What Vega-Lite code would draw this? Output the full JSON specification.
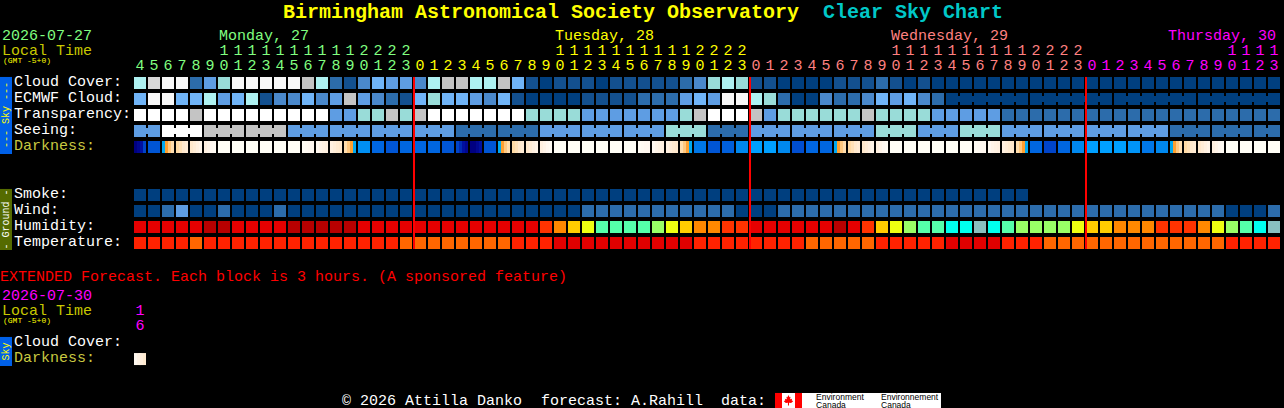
{"$schema":"https://vega.github.io/schema/vega-lite/v6.json","width":1284,"height":408,"padding":0,"autosize":{"type":"none"},"background":"#000000","config":{"view":{"stroke":null}},
"datasets":{
"sky":[
{"row":"Cloud Cover","slot":0,"level":70},{"row":"Cloud Cover","slot":1,"level":90},{"row":"Cloud Cover","slot":2,"level":100},{"row":"Cloud Cover","slot":3,"level":100},{"row":"Cloud Cover","slot":4,"level":20},{"row":"Cloud Cover","slot":5,"level":40},{"row":"Cloud Cover","slot":6,"level":60},{"row":"Cloud Cover","slot":7,"level":100},{"row":"Cloud Cover","slot":8,"level":100},{"row":"Cloud Cover","slot":9,"level":100},{"row":"Cloud Cover","slot":10,"level":100},{"row":"Cloud Cover","slot":11,"level":100},{"row":"Cloud Cover","slot":12,"level":80},{"row":"Cloud Cover","slot":13,"level":70},{"row":"Cloud Cover","slot":14,"level":20},{"row":"Cloud Cover","slot":15,"level":10},{"row":"Cloud Cover","slot":16,"level":30},{"row":"Cloud Cover","slot":17,"level":50},{"row":"Cloud Cover","slot":18,"level":40},{"row":"Cloud Cover","slot":19,"level":40},{"row":"Cloud Cover","slot":20,"level":30},{"row":"Cloud Cover","slot":21,"level":70},{"row":"Cloud Cover","slot":22,"level":80},{"row":"Cloud Cover","slot":23,"level":80},{"row":"Cloud Cover","slot":24,"level":70},{"row":"Cloud Cover","slot":25,"level":70},{"row":"Cloud Cover","slot":26,"level":80},{"row":"Cloud Cover","slot":27,"level":50},{"row":"Cloud Cover","slot":28,"level":10},{"row":"Cloud Cover","slot":29,"level":0},{"row":"Cloud Cover","slot":30,"level":10},{"row":"Cloud Cover","slot":31,"level":10},{"row":"Cloud Cover","slot":32,"level":10},{"row":"Cloud Cover","slot":33,"level":0},{"row":"Cloud Cover","slot":34,"level":10},{"row":"Cloud Cover","slot":35,"level":10},{"row":"Cloud Cover","slot":36,"level":10},{"row":"Cloud Cover","slot":37,"level":10},{"row":"Cloud Cover","slot":38,"level":10},{"row":"Cloud Cover","slot":39,"level":20},{"row":"Cloud Cover","slot":40,"level":30},{"row":"Cloud Cover","slot":41,"level":60},{"row":"Cloud Cover","slot":42,"level":70},{"row":"Cloud Cover","slot":43,"level":60},{"row":"Cloud Cover","slot":44,"level":10},{"row":"Cloud Cover","slot":45,"level":10},{"row":"Cloud Cover","slot":46,"level":0},{"row":"Cloud Cover","slot":47,"level":0},{"row":"Cloud Cover","slot":48,"level":0},{"row":"Cloud Cover","slot":49,"level":0},{"row":"Cloud Cover","slot":50,"level":10},{"row":"Cloud Cover","slot":51,"level":10},{"row":"Cloud Cover","slot":52,"level":10},{"row":"Cloud Cover","slot":53,"level":20},{"row":"Cloud Cover","slot":54,"level":10},{"row":"Cloud Cover","slot":55,"level":0},{"row":"Cloud Cover","slot":56,"level":10},{"row":"Cloud Cover","slot":57,"level":0},{"row":"Cloud Cover","slot":58,"level":0},{"row":"Cloud Cover","slot":59,"level":0},{"row":"Cloud Cover","slot":60,"level":0},{"row":"Cloud Cover","slot":61,"level":0},{"row":"Cloud Cover","slot":62,"level":0},{"row":"Cloud Cover","slot":63,"level":0},{"row":"Cloud Cover","slot":64,"level":0},{"row":"Cloud Cover","slot":65,"level":0},{"row":"Cloud Cover","slot":66,"level":0},{"row":"Cloud Cover","slot":67,"level":0},{"row":"Cloud Cover","slot":68,"level":0},{"row":"Cloud Cover","slot":69,"level":0},{"row":"Cloud Cover","slot":70,"level":0},{"row":"Cloud Cover","slot":71,"level":0},{"row":"Cloud Cover","slot":72,"level":0},{"row":"Cloud Cover","slot":73,"level":0},{"row":"Cloud Cover","slot":74,"level":0},{"row":"Cloud Cover","slot":75,"level":0},{"row":"Cloud Cover","slot":76,"level":0},{"row":"Cloud Cover","slot":77,"level":0},{"row":"Cloud Cover","slot":78,"level":0},{"row":"Cloud Cover","slot":79,"level":0},{"row":"Cloud Cover","slot":80,"level":0},{"row":"Cloud Cover","slot":81,"level":0},
{"row":"ECMWF Cloud","slot":0,"level":50},{"row":"ECMWF Cloud","slot":1,"level":100},{"row":"ECMWF Cloud","slot":2,"level":100},{"row":"ECMWF Cloud","slot":3,"level":50},{"row":"ECMWF Cloud","slot":4,"level":50},{"row":"ECMWF Cloud","slot":5,"level":70},{"row":"ECMWF Cloud","slot":6,"level":40},{"row":"ECMWF Cloud","slot":7,"level":50},{"row":"ECMWF Cloud","slot":8,"level":70},{"row":"ECMWF Cloud","slot":9,"level":10},{"row":"ECMWF Cloud","slot":10,"level":30},{"row":"ECMWF Cloud","slot":11,"level":30},{"row":"ECMWF Cloud","slot":12,"level":50},{"row":"ECMWF Cloud","slot":13,"level":30},{"row":"ECMWF Cloud","slot":14,"level":40},{"row":"ECMWF Cloud","slot":15,"level":80},{"row":"ECMWF Cloud","slot":16,"level":40},{"row":"ECMWF Cloud","slot":17,"level":30},{"row":"ECMWF Cloud","slot":18,"level":20},{"row":"ECMWF Cloud","slot":19,"level":10},{"row":"ECMWF Cloud","slot":20,"level":50},{"row":"ECMWF Cloud","slot":21,"level":60},{"row":"ECMWF Cloud","slot":22,"level":50},{"row":"ECMWF Cloud","slot":23,"level":50},{"row":"ECMWF Cloud","slot":24,"level":40},{"row":"ECMWF Cloud","slot":25,"level":30},{"row":"ECMWF Cloud","slot":26,"level":50},{"row":"ECMWF Cloud","slot":27,"level":10},{"row":"ECMWF Cloud","slot":28,"level":0},{"row":"ECMWF Cloud","slot":29,"level":0},{"row":"ECMWF Cloud","slot":30,"level":0},{"row":"ECMWF Cloud","slot":31,"level":0},{"row":"ECMWF Cloud","slot":32,"level":10},{"row":"ECMWF Cloud","slot":33,"level":10},{"row":"ECMWF Cloud","slot":34,"level":10},{"row":"ECMWF Cloud","slot":35,"level":10},{"row":"ECMWF Cloud","slot":36,"level":20},{"row":"ECMWF Cloud","slot":37,"level":20},{"row":"ECMWF Cloud","slot":38,"level":20},{"row":"ECMWF Cloud","slot":39,"level":40},{"row":"ECMWF Cloud","slot":40,"level":50},{"row":"ECMWF Cloud","slot":41,"level":40},{"row":"ECMWF Cloud","slot":42,"level":100},{"row":"ECMWF Cloud","slot":43,"level":100},{"row":"ECMWF Cloud","slot":44,"level":70},{"row":"ECMWF Cloud","slot":45,"level":60},{"row":"ECMWF Cloud","slot":46,"level":20},{"row":"ECMWF Cloud","slot":47,"level":0},{"row":"ECMWF Cloud","slot":48,"level":0},{"row":"ECMWF Cloud","slot":49,"level":30},{"row":"ECMWF Cloud","slot":50,"level":20},{"row":"ECMWF Cloud","slot":51,"level":20},{"row":"ECMWF Cloud","slot":52,"level":30},{"row":"ECMWF Cloud","slot":53,"level":50},{"row":"ECMWF Cloud","slot":54,"level":40},{"row":"ECMWF Cloud","slot":55,"level":50},{"row":"ECMWF Cloud","slot":56,"level":30},{"row":"ECMWF Cloud","slot":57,"level":20},{"row":"ECMWF Cloud","slot":58,"level":0},{"row":"ECMWF Cloud","slot":59,"level":0},{"row":"ECMWF Cloud","slot":60,"level":0},{"row":"ECMWF Cloud","slot":61,"level":0},{"row":"ECMWF Cloud","slot":62,"level":0},{"row":"ECMWF Cloud","slot":63,"level":0},{"row":"ECMWF Cloud","slot":64,"level":0},{"row":"ECMWF Cloud","slot":65,"level":0},{"row":"ECMWF Cloud","slot":66,"level":0},{"row":"ECMWF Cloud","slot":67,"level":0},{"row":"ECMWF Cloud","slot":68,"level":0},{"row":"ECMWF Cloud","slot":69,"level":0},{"row":"ECMWF Cloud","slot":70,"level":0},{"row":"ECMWF Cloud","slot":71,"level":0},{"row":"ECMWF Cloud","slot":72,"level":0},{"row":"ECMWF Cloud","slot":73,"level":0},{"row":"ECMWF Cloud","slot":74,"level":0},{"row":"ECMWF Cloud","slot":75,"level":0},{"row":"ECMWF Cloud","slot":76,"level":0},{"row":"ECMWF Cloud","slot":77,"level":0},{"row":"ECMWF Cloud","slot":78,"level":0},{"row":"ECMWF Cloud","slot":79,"level":0},{"row":"ECMWF Cloud","slot":80,"level":0},{"row":"ECMWF Cloud","slot":81,"level":0},
{"row":"Transparency","slot":0,"level":105},{"row":"Transparency","slot":1,"level":105},{"row":"Transparency","slot":2,"level":105},{"row":"Transparency","slot":3,"level":105},{"row":"Transparency","slot":4,"level":80},{"row":"Transparency","slot":5,"level":105},{"row":"Transparency","slot":6,"level":105},{"row":"Transparency","slot":7,"level":105},{"row":"Transparency","slot":8,"level":105},{"row":"Transparency","slot":9,"level":105},{"row":"Transparency","slot":10,"level":105},{"row":"Transparency","slot":11,"level":105},{"row":"Transparency","slot":12,"level":105},{"row":"Transparency","slot":13,"level":105},{"row":"Transparency","slot":14,"level":40},{"row":"Transparency","slot":15,"level":40},{"row":"Transparency","slot":16,"level":60},{"row":"Transparency","slot":17,"level":60},{"row":"Transparency","slot":18,"level":80},{"row":"Transparency","slot":19,"level":60},{"row":"Transparency","slot":20,"level":80},{"row":"Transparency","slot":21,"level":105},{"row":"Transparency","slot":22,"level":105},{"row":"Transparency","slot":23,"level":105},{"row":"Transparency","slot":24,"level":105},{"row":"Transparency","slot":25,"level":105},{"row":"Transparency","slot":26,"level":105},{"row":"Transparency","slot":27,"level":105},{"row":"Transparency","slot":28,"level":60},{"row":"Transparency","slot":29,"level":60},{"row":"Transparency","slot":30,"level":60},{"row":"Transparency","slot":31,"level":60},{"row":"Transparency","slot":32,"level":40},{"row":"Transparency","slot":33,"level":40},{"row":"Transparency","slot":34,"level":40},{"row":"Transparency","slot":35,"level":40},{"row":"Transparency","slot":36,"level":40},{"row":"Transparency","slot":37,"level":40},{"row":"Transparency","slot":38,"level":40},{"row":"Transparency","slot":39,"level":60},{"row":"Transparency","slot":40,"level":80},{"row":"Transparency","slot":41,"level":105},{"row":"Transparency","slot":42,"level":105},{"row":"Transparency","slot":43,"level":105},{"row":"Transparency","slot":44,"level":80},{"row":"Transparency","slot":45,"level":40},{"row":"Transparency","slot":46,"level":60},{"row":"Transparency","slot":47,"level":60},{"row":"Transparency","slot":48,"level":60},{"row":"Transparency","slot":49,"level":60},{"row":"Transparency","slot":50,"level":60},{"row":"Transparency","slot":51,"level":60},{"row":"Transparency","slot":52,"level":80},{"row":"Transparency","slot":53,"level":60},{"row":"Transparency","slot":54,"level":60},{"row":"Transparency","slot":55,"level":60},{"row":"Transparency","slot":56,"level":60},{"row":"Transparency","slot":57,"level":40},{"row":"Transparency","slot":58,"level":40},{"row":"Transparency","slot":59,"level":40},{"row":"Transparency","slot":60,"level":40},{"row":"Transparency","slot":61,"level":40},{"row":"Transparency","slot":62,"level":20},{"row":"Transparency","slot":63,"level":20},{"row":"Transparency","slot":64,"level":20},{"row":"Transparency","slot":65,"level":20},{"row":"Transparency","slot":66,"level":20},{"row":"Transparency","slot":67,"level":20},{"row":"Transparency","slot":68,"level":20},{"row":"Transparency","slot":69,"level":20},{"row":"Transparency","slot":70,"level":20},{"row":"Transparency","slot":71,"level":20},{"row":"Transparency","slot":72,"level":20},{"row":"Transparency","slot":73,"level":20},{"row":"Transparency","slot":74,"level":20},{"row":"Transparency","slot":75,"level":20},{"row":"Transparency","slot":76,"level":20},{"row":"Transparency","slot":77,"level":20},{"row":"Transparency","slot":78,"level":20},{"row":"Transparency","slot":79,"level":20},{"row":"Transparency","slot":80,"level":20},{"row":"Transparency","slot":81,"level":20},
{"row":"Seeing","slot":0,"level":40},{"row":"Seeing","slot":1,"level":40},{"row":"Seeing","slot":2,"level":105},{"row":"Seeing","slot":3,"level":105},{"row":"Seeing","slot":4,"level":105},{"row":"Seeing","slot":5,"level":80},{"row":"Seeing","slot":6,"level":80},{"row":"Seeing","slot":7,"level":80},{"row":"Seeing","slot":8,"level":80},{"row":"Seeing","slot":9,"level":80},{"row":"Seeing","slot":10,"level":80},{"row":"Seeing","slot":11,"level":40},{"row":"Seeing","slot":12,"level":40},{"row":"Seeing","slot":13,"level":40},{"row":"Seeing","slot":14,"level":40},{"row":"Seeing","slot":15,"level":40},{"row":"Seeing","slot":16,"level":40},{"row":"Seeing","slot":17,"level":40},{"row":"Seeing","slot":18,"level":40},{"row":"Seeing","slot":19,"level":40},{"row":"Seeing","slot":20,"level":40},{"row":"Seeing","slot":21,"level":40},{"row":"Seeing","slot":22,"level":40},{"row":"Seeing","slot":23,"level":20},{"row":"Seeing","slot":24,"level":20},{"row":"Seeing","slot":25,"level":20},{"row":"Seeing","slot":26,"level":20},{"row":"Seeing","slot":27,"level":20},{"row":"Seeing","slot":28,"level":20},{"row":"Seeing","slot":29,"level":40},{"row":"Seeing","slot":30,"level":40},{"row":"Seeing","slot":31,"level":40},{"row":"Seeing","slot":32,"level":40},{"row":"Seeing","slot":33,"level":40},{"row":"Seeing","slot":34,"level":40},{"row":"Seeing","slot":35,"level":40},{"row":"Seeing","slot":36,"level":40},{"row":"Seeing","slot":37,"level":40},{"row":"Seeing","slot":38,"level":60},{"row":"Seeing","slot":39,"level":60},{"row":"Seeing","slot":40,"level":60},{"row":"Seeing","slot":41,"level":20},{"row":"Seeing","slot":42,"level":20},{"row":"Seeing","slot":43,"level":20},{"row":"Seeing","slot":44,"level":40},{"row":"Seeing","slot":45,"level":40},{"row":"Seeing","slot":46,"level":40},{"row":"Seeing","slot":47,"level":40},{"row":"Seeing","slot":48,"level":40},{"row":"Seeing","slot":49,"level":40},{"row":"Seeing","slot":50,"level":40},{"row":"Seeing","slot":51,"level":40},{"row":"Seeing","slot":52,"level":40},{"row":"Seeing","slot":53,"level":60},{"row":"Seeing","slot":54,"level":60},{"row":"Seeing","slot":55,"level":60},{"row":"Seeing","slot":56,"level":40},{"row":"Seeing","slot":57,"level":40},{"row":"Seeing","slot":58,"level":40},{"row":"Seeing","slot":59,"level":60},{"row":"Seeing","slot":60,"level":60},{"row":"Seeing","slot":61,"level":60},{"row":"Seeing","slot":62,"level":40},{"row":"Seeing","slot":63,"level":40},{"row":"Seeing","slot":64,"level":40},{"row":"Seeing","slot":65,"level":40},{"row":"Seeing","slot":66,"level":40},{"row":"Seeing","slot":67,"level":40},{"row":"Seeing","slot":68,"level":40},{"row":"Seeing","slot":69,"level":40},{"row":"Seeing","slot":70,"level":40},{"row":"Seeing","slot":71,"level":40},{"row":"Seeing","slot":72,"level":40},{"row":"Seeing","slot":73,"level":40},{"row":"Seeing","slot":74,"level":20},{"row":"Seeing","slot":75,"level":20},{"row":"Seeing","slot":76,"level":20},{"row":"Seeing","slot":77,"level":20},{"row":"Seeing","slot":78,"level":20},{"row":"Seeing","slot":79,"level":20},{"row":"Seeing","slot":80,"level":20},{"row":"Seeing","slot":81,"level":20},
{"row":"Smoke","slot":0,"level":0},{"row":"Smoke","slot":1,"level":0},{"row":"Smoke","slot":2,"level":0},{"row":"Smoke","slot":3,"level":0},{"row":"Smoke","slot":4,"level":0},{"row":"Smoke","slot":5,"level":0},{"row":"Smoke","slot":6,"level":0},{"row":"Smoke","slot":7,"level":0},{"row":"Smoke","slot":8,"level":0},{"row":"Smoke","slot":9,"level":0},{"row":"Smoke","slot":10,"level":0},{"row":"Smoke","slot":11,"level":0},{"row":"Smoke","slot":12,"level":0},{"row":"Smoke","slot":13,"level":0},{"row":"Smoke","slot":14,"level":0},{"row":"Smoke","slot":15,"level":0},{"row":"Smoke","slot":16,"level":0},{"row":"Smoke","slot":17,"level":0},{"row":"Smoke","slot":18,"level":0},{"row":"Smoke","slot":19,"level":0},{"row":"Smoke","slot":20,"level":0},{"row":"Smoke","slot":21,"level":0},{"row":"Smoke","slot":22,"level":0},{"row":"Smoke","slot":23,"level":0},{"row":"Smoke","slot":24,"level":0},{"row":"Smoke","slot":25,"level":0},{"row":"Smoke","slot":26,"level":0},{"row":"Smoke","slot":27,"level":0},{"row":"Smoke","slot":28,"level":0},{"row":"Smoke","slot":29,"level":0},{"row":"Smoke","slot":30,"level":0},{"row":"Smoke","slot":31,"level":0},{"row":"Smoke","slot":32,"level":0},{"row":"Smoke","slot":33,"level":0},{"row":"Smoke","slot":34,"level":0},{"row":"Smoke","slot":35,"level":0},{"row":"Smoke","slot":36,"level":0},{"row":"Smoke","slot":37,"level":0},{"row":"Smoke","slot":38,"level":0},{"row":"Smoke","slot":39,"level":0},{"row":"Smoke","slot":40,"level":0},{"row":"Smoke","slot":41,"level":0},{"row":"Smoke","slot":42,"level":0},{"row":"Smoke","slot":43,"level":0},{"row":"Smoke","slot":44,"level":0},{"row":"Smoke","slot":45,"level":0},{"row":"Smoke","slot":46,"level":0},{"row":"Smoke","slot":47,"level":0},{"row":"Smoke","slot":48,"level":0},{"row":"Smoke","slot":49,"level":0},{"row":"Smoke","slot":50,"level":0},{"row":"Smoke","slot":51,"level":0},{"row":"Smoke","slot":52,"level":0},{"row":"Smoke","slot":53,"level":0},{"row":"Smoke","slot":54,"level":0},{"row":"Smoke","slot":55,"level":0},{"row":"Smoke","slot":56,"level":0},{"row":"Smoke","slot":57,"level":0},{"row":"Smoke","slot":58,"level":0},{"row":"Smoke","slot":59,"level":0},{"row":"Smoke","slot":60,"level":0},{"row":"Smoke","slot":61,"level":0},{"row":"Smoke","slot":62,"level":0},{"row":"Smoke","slot":63,"level":0},
{"row":"Wind","slot":0,"level":0},{"row":"Wind","slot":1,"level":0},{"row":"Wind","slot":2,"level":20},{"row":"Wind","slot":3,"level":40},{"row":"Wind","slot":4,"level":0},{"row":"Wind","slot":5,"level":0},{"row":"Wind","slot":6,"level":20},{"row":"Wind","slot":7,"level":0},{"row":"Wind","slot":8,"level":0},{"row":"Wind","slot":9,"level":0},{"row":"Wind","slot":10,"level":20},{"row":"Wind","slot":11,"level":0},{"row":"Wind","slot":12,"level":0},{"row":"Wind","slot":13,"level":0},{"row":"Wind","slot":14,"level":0},{"row":"Wind","slot":15,"level":0},{"row":"Wind","slot":16,"level":0},{"row":"Wind","slot":17,"level":0},{"row":"Wind","slot":18,"level":0},{"row":"Wind","slot":19,"level":0},{"row":"Wind","slot":20,"level":0},{"row":"Wind","slot":21,"level":0},{"row":"Wind","slot":22,"level":0},{"row":"Wind","slot":23,"level":0},{"row":"Wind","slot":24,"level":0},{"row":"Wind","slot":25,"level":0},{"row":"Wind","slot":26,"level":0},{"row":"Wind","slot":27,"level":0},{"row":"Wind","slot":28,"level":0},{"row":"Wind","slot":29,"level":0},{"row":"Wind","slot":30,"level":0},{"row":"Wind","slot":31,"level":0},{"row":"Wind","slot":32,"level":20},{"row":"Wind","slot":33,"level":20},{"row":"Wind","slot":34,"level":20},{"row":"Wind","slot":35,"level":20},{"row":"Wind","slot":36,"level":20},{"row":"Wind","slot":37,"level":20},{"row":"Wind","slot":38,"level":20},{"row":"Wind","slot":39,"level":20},{"row":"Wind","slot":40,"level":20},{"row":"Wind","slot":41,"level":20},{"row":"Wind","slot":42,"level":20},{"row":"Wind","slot":43,"level":0},{"row":"Wind","slot":44,"level":0},{"row":"Wind","slot":45,"level":0},{"row":"Wind","slot":46,"level":20},{"row":"Wind","slot":47,"level":20},{"row":"Wind","slot":48,"level":20},{"row":"Wind","slot":49,"level":20},{"row":"Wind","slot":50,"level":20},{"row":"Wind","slot":51,"level":20},{"row":"Wind","slot":52,"level":20},{"row":"Wind","slot":53,"level":20},{"row":"Wind","slot":54,"level":20},{"row":"Wind","slot":55,"level":20},{"row":"Wind","slot":56,"level":20},{"row":"Wind","slot":57,"level":20},{"row":"Wind","slot":58,"level":20},{"row":"Wind","slot":59,"level":20},{"row":"Wind","slot":60,"level":20},{"row":"Wind","slot":61,"level":20},{"row":"Wind","slot":62,"level":20},{"row":"Wind","slot":63,"level":20},{"row":"Wind","slot":64,"level":20},{"row":"Wind","slot":65,"level":20},{"row":"Wind","slot":66,"level":20},{"row":"Wind","slot":67,"level":20},{"row":"Wind","slot":68,"level":20},{"row":"Wind","slot":69,"level":20},{"row":"Wind","slot":70,"level":20},{"row":"Wind","slot":71,"level":20},{"row":"Wind","slot":72,"level":20},{"row":"Wind","slot":73,"level":20},{"row":"Wind","slot":74,"level":20},{"row":"Wind","slot":75,"level":20},{"row":"Wind","slot":76,"level":20},{"row":"Wind","slot":77,"level":20},{"row":"Wind","slot":78,"level":0},{"row":"Wind","slot":79,"level":0},{"row":"Wind","slot":80,"level":0},{"row":"Wind","slot":81,"level":20}
],
"joins":[
{"row":"Seeing","slot":0,"slotEnd":1,"level":40},{"row":"Seeing","slot":2,"slotEnd":4,"level":105},{"row":"Seeing","slot":5,"slotEnd":7,"level":80},{"row":"Seeing","slot":8,"slotEnd":10,"level":80},{"row":"Seeing","slot":11,"slotEnd":13,"level":40},{"row":"Seeing","slot":14,"slotEnd":16,"level":40},{"row":"Seeing","slot":17,"slotEnd":19,"level":40},{"row":"Seeing","slot":20,"slotEnd":22,"level":40},{"row":"Seeing","slot":23,"slotEnd":25,"level":20},{"row":"Seeing","slot":26,"slotEnd":28,"level":20},{"row":"Seeing","slot":29,"slotEnd":31,"level":40},{"row":"Seeing","slot":32,"slotEnd":34,"level":40},{"row":"Seeing","slot":35,"slotEnd":37,"level":40},{"row":"Seeing","slot":38,"slotEnd":40,"level":60},{"row":"Seeing","slot":41,"slotEnd":43,"level":20},{"row":"Seeing","slot":44,"slotEnd":46,"level":40},{"row":"Seeing","slot":47,"slotEnd":49,"level":40},{"row":"Seeing","slot":50,"slotEnd":52,"level":40},{"row":"Seeing","slot":53,"slotEnd":55,"level":60},{"row":"Seeing","slot":56,"slotEnd":58,"level":40},{"row":"Seeing","slot":59,"slotEnd":61,"level":60},{"row":"Seeing","slot":62,"slotEnd":64,"level":40},{"row":"Seeing","slot":65,"slotEnd":67,"level":40},{"row":"Seeing","slot":68,"slotEnd":70,"level":40},{"row":"Seeing","slot":71,"slotEnd":73,"level":40},{"row":"Seeing","slot":74,"slotEnd":76,"level":20},{"row":"Seeing","slot":77,"slotEnd":79,"level":20},{"row":"Seeing","slot":80,"slotEnd":81,"level":20},
{"row":"ECMWF Cloud","slot":58,"slotEnd":63,"level":0},{"row":"ECMWF Cloud","slot":64,"slotEnd":69,"level":0},{"row":"ECMWF Cloud","slot":70,"slotEnd":75,"level":0},{"row":"ECMWF Cloud","slot":76,"slotEnd":81,"level":0}
],
"humidity":[
{"row":"Humidity","slot":0,"level":90},{"row":"Humidity","slot":1,"level":90},{"row":"Humidity","slot":2,"level":90},{"row":"Humidity","slot":3,"level":90},{"row":"Humidity","slot":4,"level":90},{"row":"Humidity","slot":5,"level":95},{"row":"Humidity","slot":6,"level":95},{"row":"Humidity","slot":7,"level":90},{"row":"Humidity","slot":8,"level":90},{"row":"Humidity","slot":9,"level":90},{"row":"Humidity","slot":10,"level":90},{"row":"Humidity","slot":11,"level":95},{"row":"Humidity","slot":12,"level":95},{"row":"Humidity","slot":13,"level":95},{"row":"Humidity","slot":14,"level":95},{"row":"Humidity","slot":15,"level":95},{"row":"Humidity","slot":16,"level":90},{"row":"Humidity","slot":17,"level":90},{"row":"Humidity","slot":18,"level":90},{"row":"Humidity","slot":19,"level":90},{"row":"Humidity","slot":20,"level":90},{"row":"Humidity","slot":21,"level":90},{"row":"Humidity","slot":22,"level":90},{"row":"Humidity","slot":23,"level":90},{"row":"Humidity","slot":24,"level":90},{"row":"Humidity","slot":25,"level":90},{"row":"Humidity","slot":26,"level":90},{"row":"Humidity","slot":27,"level":90},{"row":"Humidity","slot":28,"level":90},{"row":"Humidity","slot":29,"level":85},{"row":"Humidity","slot":30,"level":80},{"row":"Humidity","slot":31,"level":75},{"row":"Humidity","slot":32,"level":70},{"row":"Humidity","slot":33,"level":60},{"row":"Humidity","slot":34,"level":60},{"row":"Humidity","slot":35,"level":60},{"row":"Humidity","slot":36,"level":60},{"row":"Humidity","slot":37,"level":65},{"row":"Humidity","slot":38,"level":70},{"row":"Humidity","slot":39,"level":75},{"row":"Humidity","slot":40,"level":80},{"row":"Humidity","slot":41,"level":80},{"row":"Humidity","slot":42,"level":85},{"row":"Humidity","slot":43,"level":85},{"row":"Humidity","slot":44,"level":90},{"row":"Humidity","slot":45,"level":90},{"row":"Humidity","slot":46,"level":90},{"row":"Humidity","slot":47,"level":90},{"row":"Humidity","slot":48,"level":90},{"row":"Humidity","slot":49,"level":90},{"row":"Humidity","slot":50,"level":95},{"row":"Humidity","slot":51,"level":90},{"row":"Humidity","slot":52,"level":85},{"row":"Humidity","slot":53,"level":75},{"row":"Humidity","slot":54,"level":70},{"row":"Humidity","slot":55,"level":65},{"row":"Humidity","slot":56,"level":60},{"row":"Humidity","slot":57,"level":60},{"row":"Humidity","slot":58,"level":55},{"row":"Humidity","slot":59,"level":55},{"row":"Humidity","slot":60,"level":50},{"row":"Humidity","slot":61,"level":55},{"row":"Humidity","slot":62,"level":60},{"row":"Humidity","slot":63,"level":65},{"row":"Humidity","slot":64,"level":65},{"row":"Humidity","slot":65,"level":65},{"row":"Humidity","slot":66,"level":65},{"row":"Humidity","slot":67,"level":70},{"row":"Humidity","slot":68,"level":75},{"row":"Humidity","slot":69,"level":75},{"row":"Humidity","slot":70,"level":80},{"row":"Humidity","slot":71,"level":80},{"row":"Humidity","slot":72,"level":80},{"row":"Humidity","slot":73,"level":85},{"row":"Humidity","slot":74,"level":85},{"row":"Humidity","slot":75,"level":85},{"row":"Humidity","slot":76,"level":80},{"row":"Humidity","slot":77,"level":70},{"row":"Humidity","slot":78,"level":65},{"row":"Humidity","slot":79,"level":60},{"row":"Humidity","slot":80,"level":55},{"row":"Humidity","slot":81,"level":50}
],
"temperature":[
{"row":"Temperature","slot":0,"level":24},{"row":"Temperature","slot":1,"level":24},{"row":"Temperature","slot":2,"level":24},{"row":"Temperature","slot":3,"level":24},{"row":"Temperature","slot":4,"level":27},{"row":"Temperature","slot":5,"level":24},{"row":"Temperature","slot":6,"level":24},{"row":"Temperature","slot":7,"level":24},{"row":"Temperature","slot":8,"level":24},{"row":"Temperature","slot":9,"level":24},{"row":"Temperature","slot":10,"level":24},{"row":"Temperature","slot":11,"level":24},{"row":"Temperature","slot":12,"level":24},{"row":"Temperature","slot":13,"level":24},{"row":"Temperature","slot":14,"level":24},{"row":"Temperature","slot":15,"level":24},{"row":"Temperature","slot":16,"level":24},{"row":"Temperature","slot":17,"level":24},{"row":"Temperature","slot":18,"level":24},{"row":"Temperature","slot":19,"level":27},{"row":"Temperature","slot":20,"level":27},{"row":"Temperature","slot":21,"level":27},{"row":"Temperature","slot":22,"level":27},{"row":"Temperature","slot":23,"level":27},{"row":"Temperature","slot":24,"level":27},{"row":"Temperature","slot":25,"level":27},{"row":"Temperature","slot":26,"level":27},{"row":"Temperature","slot":27,"level":24},{"row":"Temperature","slot":28,"level":24},{"row":"Temperature","slot":29,"level":24},{"row":"Temperature","slot":30,"level":21},{"row":"Temperature","slot":31,"level":21},{"row":"Temperature","slot":32,"level":21},{"row":"Temperature","slot":33,"level":21},{"row":"Temperature","slot":34,"level":21},{"row":"Temperature","slot":35,"level":21},{"row":"Temperature","slot":36,"level":21},{"row":"Temperature","slot":37,"level":21},{"row":"Temperature","slot":38,"level":21},{"row":"Temperature","slot":39,"level":21},{"row":"Temperature","slot":40,"level":24},{"row":"Temperature","slot":41,"level":24},{"row":"Temperature","slot":42,"level":24},{"row":"Temperature","slot":43,"level":24},{"row":"Temperature","slot":44,"level":24},{"row":"Temperature","slot":45,"level":24},{"row":"Temperature","slot":46,"level":24},{"row":"Temperature","slot":47,"level":24},{"row":"Temperature","slot":48,"level":27},{"row":"Temperature","slot":49,"level":27},{"row":"Temperature","slot":50,"level":27},{"row":"Temperature","slot":51,"level":27},{"row":"Temperature","slot":52,"level":27},{"row":"Temperature","slot":53,"level":24},{"row":"Temperature","slot":54,"level":24},{"row":"Temperature","slot":55,"level":24},{"row":"Temperature","slot":56,"level":24},{"row":"Temperature","slot":57,"level":24},{"row":"Temperature","slot":58,"level":21},{"row":"Temperature","slot":59,"level":21},{"row":"Temperature","slot":60,"level":21},{"row":"Temperature","slot":61,"level":21},{"row":"Temperature","slot":62,"level":24},{"row":"Temperature","slot":63,"level":24},{"row":"Temperature","slot":64,"level":24},{"row":"Temperature","slot":65,"level":27},{"row":"Temperature","slot":66,"level":27},{"row":"Temperature","slot":67,"level":27},{"row":"Temperature","slot":68,"level":27},{"row":"Temperature","slot":69,"level":27},{"row":"Temperature","slot":70,"level":27},{"row":"Temperature","slot":71,"level":27},{"row":"Temperature","slot":72,"level":27},{"row":"Temperature","slot":73,"level":27},{"row":"Temperature","slot":74,"level":27},{"row":"Temperature","slot":75,"level":27},{"row":"Temperature","slot":76,"level":27},{"row":"Temperature","slot":77,"level":27},{"row":"Temperature","slot":78,"level":24},{"row":"Temperature","slot":79,"level":24},{"row":"Temperature","slot":80,"level":24},{"row":"Temperature","slot":81,"level":24}
],
"darkness":[
{"row":"Darkness","slot":0,"mag":6.5},{"row":"Darkness","slot":1,"mag":4.5},{"row":"Darkness","slot":2,"mag":0},{"row":"Darkness","slot":3,"mag":-0.7},{"row":"Darkness","slot":4,"mag":-1.7},{"row":"Darkness","slot":5,"mag":-2.8},{"row":"Darkness","slot":6,"mag":-4},{"row":"Darkness","slot":7,"mag":-4},{"row":"Darkness","slot":8,"mag":-4},{"row":"Darkness","slot":9,"mag":-4},{"row":"Darkness","slot":10,"mag":-4},{"row":"Darkness","slot":11,"mag":-4},{"row":"Darkness","slot":12,"mag":-3.3},{"row":"Darkness","slot":13,"mag":-2.4},{"row":"Darkness","slot":14,"mag":-1.5},{"row":"Darkness","slot":15,"mag":0.5},{"row":"Darkness","slot":16,"mag":2.7},{"row":"Darkness","slot":17,"mag":4},{"row":"Darkness","slot":18,"mag":4.5},{"row":"Darkness","slot":19,"mag":4},{"row":"Darkness","slot":20,"mag":4},{"row":"Darkness","slot":21,"mag":4},{"row":"Darkness","slot":22,"mag":4.5},{"row":"Darkness","slot":23,"mag":5.7},{"row":"Darkness","slot":24,"mag":6.5},{"row":"Darkness","slot":25,"mag":4.5},{"row":"Darkness","slot":26,"mag":0},{"row":"Darkness","slot":27,"mag":-0.7},{"row":"Darkness","slot":28,"mag":-1.7},{"row":"Darkness","slot":29,"mag":-2.8},{"row":"Darkness","slot":30,"mag":-4},{"row":"Darkness","slot":31,"mag":-4},{"row":"Darkness","slot":32,"mag":-4},{"row":"Darkness","slot":33,"mag":-4},{"row":"Darkness","slot":34,"mag":-4},{"row":"Darkness","slot":35,"mag":-4},{"row":"Darkness","slot":36,"mag":-3.3},{"row":"Darkness","slot":37,"mag":-2.4},{"row":"Darkness","slot":38,"mag":-1.5},{"row":"Darkness","slot":39,"mag":0.5},{"row":"Darkness","slot":40,"mag":3.5},{"row":"Darkness","slot":41,"mag":4.5},{"row":"Darkness","slot":42,"mag":4.2},{"row":"Darkness","slot":43,"mag":3},{"row":"Darkness","slot":44,"mag":2},{"row":"Darkness","slot":45,"mag":2},{"row":"Darkness","slot":46,"mag":3},{"row":"Darkness","slot":47,"mag":4.7},{"row":"Darkness","slot":48,"mag":4},{"row":"Darkness","slot":49,"mag":4},{"row":"Darkness","slot":50,"mag":0},{"row":"Darkness","slot":51,"mag":-0.7},{"row":"Darkness","slot":52,"mag":-1.7},{"row":"Darkness","slot":53,"mag":-2.8},{"row":"Darkness","slot":54,"mag":-4},{"row":"Darkness","slot":55,"mag":-4},{"row":"Darkness","slot":56,"mag":-4},{"row":"Darkness","slot":57,"mag":-4},{"row":"Darkness","slot":58,"mag":-4},{"row":"Darkness","slot":59,"mag":-4},{"row":"Darkness","slot":60,"mag":-3.3},{"row":"Darkness","slot":61,"mag":-2.4},{"row":"Darkness","slot":62,"mag":-1.5},{"row":"Darkness","slot":63,"mag":0.5},{"row":"Darkness","slot":64,"mag":4},{"row":"Darkness","slot":65,"mag":5},{"row":"Darkness","slot":66,"mag":4},{"row":"Darkness","slot":67,"mag":3},{"row":"Darkness","slot":68,"mag":2},{"row":"Darkness","slot":69,"mag":2},{"row":"Darkness","slot":70,"mag":2},{"row":"Darkness","slot":71,"mag":2.5},{"row":"Darkness","slot":72,"mag":3.5},{"row":"Darkness","slot":73,"mag":3},{"row":"Darkness","slot":74,"mag":0},{"row":"Darkness","slot":75,"mag":-0.7},{"row":"Darkness","slot":76,"mag":-1.7},{"row":"Darkness","slot":77,"mag":-2.8},{"row":"Darkness","slot":78,"mag":-4},{"row":"Darkness","slot":79,"mag":-4},{"row":"Darkness","slot":80,"mag":-4},{"row":"Darkness","slot":81,"mag":-4}
],
"darknessFade":[
{"row":"Darkness","slot":-0.321,"mag":7},{"row":"Darkness","slot":-0.107,"mag":6.5},{"row":"Darkness","slot":0.107,"mag":6},{"row":"Darkness","slot":0.321,"mag":5},
{"row":"Darkness","slot":1.679,"mag":1.6},{"row":"Darkness","slot":1.893,"mag":1},{"row":"Darkness","slot":2.107,"mag":0.3},{"row":"Darkness","slot":2.321,"mag":-0.3},
{"row":"Darkness","slot":2.679,"mag":-0.1},{"row":"Darkness","slot":2.893,"mag":-0.5},{"row":"Darkness","slot":3.107,"mag":-1},{"row":"Darkness","slot":3.321,"mag":-1.4},
{"row":"Darkness","slot":3.679,"mag":-1},{"row":"Darkness","slot":3.893,"mag":-1.5},{"row":"Darkness","slot":4.107,"mag":-2},{"row":"Darkness","slot":4.321,"mag":-2.5},
{"row":"Darkness","slot":4.679,"mag":-2},{"row":"Darkness","slot":4.893,"mag":-2.5},{"row":"Darkness","slot":5.107,"mag":-3},{"row":"Darkness","slot":5.321,"mag":-3.5},
{"row":"Darkness","slot":11.679,"mag":-3.6},{"row":"Darkness","slot":11.893,"mag":-3.3},{"row":"Darkness","slot":12.107,"mag":-3},{"row":"Darkness","slot":12.321,"mag":-3},
{"row":"Darkness","slot":12.679,"mag":-3},{"row":"Darkness","slot":12.893,"mag":-2.5},{"row":"Darkness","slot":13.107,"mag":-2.2},{"row":"Darkness","slot":13.321,"mag":-2},
{"row":"Darkness","slot":13.679,"mag":-2},{"row":"Darkness","slot":13.893,"mag":-1.6},{"row":"Darkness","slot":14.107,"mag":-1.2},{"row":"Darkness","slot":14.321,"mag":-1},
{"row":"Darkness","slot":14.679,"mag":-0.3},{"row":"Darkness","slot":14.893,"mag":0.3},{"row":"Darkness","slot":15.107,"mag":1},{"row":"Darkness","slot":15.321,"mag":1.6},
{"row":"Darkness","slot":22.679,"mag":5},{"row":"Darkness","slot":22.893,"mag":5.5},{"row":"Darkness","slot":23.107,"mag":6},{"row":"Darkness","slot":23.321,"mag":6.5},
{"row":"Darkness","slot":23.679,"mag":7},{"row":"Darkness","slot":23.893,"mag":7},{"row":"Darkness","slot":24.107,"mag":6.5},{"row":"Darkness","slot":24.321,"mag":6},
{"row":"Darkness","slot":25.679,"mag":1.6},{"row":"Darkness","slot":25.893,"mag":1},{"row":"Darkness","slot":26.107,"mag":0.3},{"row":"Darkness","slot":26.321,"mag":-0.3},
{"row":"Darkness","slot":26.679,"mag":-0.1},{"row":"Darkness","slot":26.893,"mag":-0.5},{"row":"Darkness","slot":27.107,"mag":-1},{"row":"Darkness","slot":27.321,"mag":-1.4},
{"row":"Darkness","slot":27.679,"mag":-1},{"row":"Darkness","slot":27.893,"mag":-1.5},{"row":"Darkness","slot":28.107,"mag":-2},{"row":"Darkness","slot":28.321,"mag":-2.5},
{"row":"Darkness","slot":28.679,"mag":-2},{"row":"Darkness","slot":28.893,"mag":-2.5},{"row":"Darkness","slot":29.107,"mag":-3},{"row":"Darkness","slot":29.321,"mag":-3.5},
{"row":"Darkness","slot":35.679,"mag":-3.6},{"row":"Darkness","slot":35.893,"mag":-3.3},{"row":"Darkness","slot":36.107,"mag":-3},{"row":"Darkness","slot":36.321,"mag":-3},
{"row":"Darkness","slot":36.679,"mag":-3},{"row":"Darkness","slot":36.893,"mag":-2.5},{"row":"Darkness","slot":37.107,"mag":-2.2},{"row":"Darkness","slot":37.321,"mag":-2},
{"row":"Darkness","slot":37.679,"mag":-2},{"row":"Darkness","slot":37.893,"mag":-1.6},{"row":"Darkness","slot":38.107,"mag":-1.2},{"row":"Darkness","slot":38.321,"mag":-1},
{"row":"Darkness","slot":38.679,"mag":-0.3},{"row":"Darkness","slot":38.893,"mag":0.3},{"row":"Darkness","slot":39.107,"mag":1},{"row":"Darkness","slot":39.321,"mag":1.6},
{"row":"Darkness","slot":49.679,"mag":1.6},{"row":"Darkness","slot":49.893,"mag":1},{"row":"Darkness","slot":50.107,"mag":0.3},{"row":"Darkness","slot":50.321,"mag":-0.3},
{"row":"Darkness","slot":50.679,"mag":-0.1},{"row":"Darkness","slot":50.893,"mag":-0.5},{"row":"Darkness","slot":51.107,"mag":-1},{"row":"Darkness","slot":51.321,"mag":-1.4},
{"row":"Darkness","slot":51.679,"mag":-1},{"row":"Darkness","slot":51.893,"mag":-1.5},{"row":"Darkness","slot":52.107,"mag":-2},{"row":"Darkness","slot":52.321,"mag":-2.5},
{"row":"Darkness","slot":52.679,"mag":-2},{"row":"Darkness","slot":52.893,"mag":-2.5},{"row":"Darkness","slot":53.107,"mag":-3},{"row":"Darkness","slot":53.321,"mag":-3.5},
{"row":"Darkness","slot":59.679,"mag":-3.6},{"row":"Darkness","slot":59.893,"mag":-3.3},{"row":"Darkness","slot":60.107,"mag":-3},{"row":"Darkness","slot":60.321,"mag":-3},
{"row":"Darkness","slot":60.679,"mag":-3},{"row":"Darkness","slot":60.893,"mag":-2.5},{"row":"Darkness","slot":61.107,"mag":-2.2},{"row":"Darkness","slot":61.321,"mag":-2},
{"row":"Darkness","slot":61.679,"mag":-2},{"row":"Darkness","slot":61.893,"mag":-1.6},{"row":"Darkness","slot":62.107,"mag":-1.2},{"row":"Darkness","slot":62.321,"mag":-1},
{"row":"Darkness","slot":62.679,"mag":-0.3},{"row":"Darkness","slot":62.893,"mag":0.3},{"row":"Darkness","slot":63.107,"mag":1},{"row":"Darkness","slot":63.321,"mag":1.6},
{"row":"Darkness","slot":73.679,"mag":1.6},{"row":"Darkness","slot":73.893,"mag":1},{"row":"Darkness","slot":74.107,"mag":0.3},{"row":"Darkness","slot":74.321,"mag":-0.3},
{"row":"Darkness","slot":74.679,"mag":-0.1},{"row":"Darkness","slot":74.893,"mag":-0.5},{"row":"Darkness","slot":75.107,"mag":-1},{"row":"Darkness","slot":75.321,"mag":-1.4},
{"row":"Darkness","slot":75.679,"mag":-1},{"row":"Darkness","slot":75.893,"mag":-1.5},{"row":"Darkness","slot":76.107,"mag":-2},{"row":"Darkness","slot":76.321,"mag":-2.5},
{"row":"Darkness","slot":76.679,"mag":-2},{"row":"Darkness","slot":76.893,"mag":-2.5},{"row":"Darkness","slot":77.107,"mag":-3},{"row":"Darkness","slot":77.321,"mag":-3.5}
],
"extendedDarkness":[
{"slot":0,"line":22.44,"mag":-2},{"slot":-0.321,"line":22.44,"mag":-3},{"slot":-0.107,"line":22.44,"mag":-2.4},{"slot":0.107,"line":22.44,"mag":-1.8},{"slot":0.321,"line":22.44,"mag":-1.2}
],
"panels":[
{"slot":-10,"slotEnd":-9.143,"line":4.81,"lineEnd":9.625,"tone":"sky"},{"slot":-10,"slotEnd":-9.143,"line":11.81,"lineEnd":15.625,"tone":"ground"},{"slot":-10,"slotEnd":-9.143,"line":21.06,"lineEnd":22.875,"tone":"sky"},
{"slot":45.357,"slotEnd":57.214,"line":24.56,"lineEnd":25.5,"tone":"white"},{"slot":45.357,"slotEnd":45.857,"line":24.56,"lineEnd":25.5,"tone":"flag"},{"slot":46.786,"slotEnd":47.286,"line":24.56,"lineEnd":25.5,"tone":"flag"}
],
"dayLines":[{"slot":19.571,"line":4.81,"lineEnd":15.56},{"slot":43.571,"line":4.81,"lineEnd":15.56},{"slot":67.571,"line":4.81,"lineEnd":15.56}],
"leaf":[{"slot":46.32,"line":25.02,"tone":"flag"}],
"heading":[{"text":"Birmingham Astronomical Society Observatory","slot":10.214,"line":0.75,"tone":"yellow"},{"text":"Clear Sky Chart","slot":48.786,"line":0.75,"tone":"cyan"}],
"labels":[
{"text":"2026-07-27","slot":-9.857,"line":2.19,"tone":"monday"},{"text":"Local Time","slot":-9.857,"line":3.125,"tone":"olive"},
{"text":"Monday, 27","slot":5.643,"line":2.19,"tone":"monday"},{"text":"Tuesday, 28","slot":29.643,"line":2.19,"tone":"yellow"},{"text":"Wednesday, 29","slot":53.643,"line":2.19,"tone":"wednesday"},{"text":"Thursday, 30","slot":73.43,"line":2.19,"tone":"thursday"},
{"text":"Cloud Cover:","slot":-9,"line":5.09,"tone":"white"},{"text":"ECMWF Cloud:","slot":-9,"line":6.09,"tone":"white"},{"text":"Transparency:","slot":-9,"line":7.09,"tone":"white"},{"text":"Seeing:","slot":-9,"line":8.09,"tone":"white"},{"text":"Darkness:","slot":-9,"line":9.09,"tone":"dark"},
{"text":"Smoke:","slot":-9,"line":12.06,"tone":"white"},{"text":"Wind:","slot":-9,"line":13.06,"tone":"white"},{"text":"Humidity:","slot":-9,"line":14.06,"tone":"white"},{"text":"Temperature:","slot":-9,"line":15.06,"tone":"white"},
{"text":"EXTENDED Forecast. Each block is 3 hours. (A sponsored feature)","slot":-10,"line":17.25,"tone":"flag"},{"text":"2026-07-30","slot":-9.857,"line":18.44,"tone":"thursday"},{"text":"Local Time","slot":-9.857,"line":19.375,"tone":"olive"},{"text":"Cloud Cover:","slot":-9,"line":21.34,"tone":"white"},{"text":"Darkness:","slot":-9,"line":22.34,"tone":"dark"},
{"text":"© 2026 Attilla Danko","slot":14.43,"line":25,"tone":"white"},{"text":"forecast: A.Rahill","slot":28.64,"line":25,"tone":"white"},{"text":"data:","slot":41.5,"line":25,"tone":"white"}
],
"hours":[
{"text":"4","slot":0,"line":4.06,"tone":"monday"},{"text":"5","slot":1,"line":4.06,"tone":"monday"},{"text":"6","slot":2,"line":4.06,"tone":"monday"},{"text":"7","slot":3,"line":4.06,"tone":"monday"},{"text":"8","slot":4,"line":4.06,"tone":"monday"},{"text":"9","slot":5,"line":4.06,"tone":"monday"},{"text":"0","slot":6,"line":4.06,"tone":"monday"},{"text":"1","slot":7,"line":4.06,"tone":"monday"},{"text":"2","slot":8,"line":4.06,"tone":"monday"},{"text":"3","slot":9,"line":4.06,"tone":"monday"},{"text":"4","slot":10,"line":4.06,"tone":"monday"},{"text":"5","slot":11,"line":4.06,"tone":"monday"},{"text":"6","slot":12,"line":4.06,"tone":"monday"},{"text":"7","slot":13,"line":4.06,"tone":"monday"},{"text":"8","slot":14,"line":4.06,"tone":"monday"},{"text":"9","slot":15,"line":4.06,"tone":"monday"},{"text":"0","slot":16,"line":4.06,"tone":"monday"},{"text":"1","slot":17,"line":4.06,"tone":"monday"},{"text":"2","slot":18,"line":4.06,"tone":"monday"},{"text":"3","slot":19,"line":4.06,"tone":"monday"},
{"text":"0","slot":20,"line":4.06,"tone":"yellow"},{"text":"1","slot":21,"line":4.06,"tone":"yellow"},{"text":"2","slot":22,"line":4.06,"tone":"yellow"},{"text":"3","slot":23,"line":4.06,"tone":"yellow"},{"text":"4","slot":24,"line":4.06,"tone":"yellow"},{"text":"5","slot":25,"line":4.06,"tone":"yellow"},{"text":"6","slot":26,"line":4.06,"tone":"yellow"},{"text":"7","slot":27,"line":4.06,"tone":"yellow"},{"text":"8","slot":28,"line":4.06,"tone":"yellow"},{"text":"9","slot":29,"line":4.06,"tone":"yellow"},{"text":"0","slot":30,"line":4.06,"tone":"yellow"},{"text":"1","slot":31,"line":4.06,"tone":"yellow"},{"text":"2","slot":32,"line":4.06,"tone":"yellow"},{"text":"3","slot":33,"line":4.06,"tone":"yellow"},{"text":"4","slot":34,"line":4.06,"tone":"yellow"},{"text":"5","slot":35,"line":4.06,"tone":"yellow"},{"text":"6","slot":36,"line":4.06,"tone":"yellow"},{"text":"7","slot":37,"line":4.06,"tone":"yellow"},{"text":"8","slot":38,"line":4.06,"tone":"yellow"},{"text":"9","slot":39,"line":4.06,"tone":"yellow"},{"text":"0","slot":40,"line":4.06,"tone":"yellow"},{"text":"1","slot":41,"line":4.06,"tone":"yellow"},{"text":"2","slot":42,"line":4.06,"tone":"yellow"},{"text":"3","slot":43,"line":4.06,"tone":"yellow"},
{"text":"0","slot":44,"line":4.06,"tone":"wednesday"},{"text":"1","slot":45,"line":4.06,"tone":"wednesday"},{"text":"2","slot":46,"line":4.06,"tone":"wednesday"},{"text":"3","slot":47,"line":4.06,"tone":"wednesday"},{"text":"4","slot":48,"line":4.06,"tone":"wednesday"},{"text":"5","slot":49,"line":4.06,"tone":"wednesday"},{"text":"6","slot":50,"line":4.06,"tone":"wednesday"},{"text":"7","slot":51,"line":4.06,"tone":"wednesday"},{"text":"8","slot":52,"line":4.06,"tone":"wednesday"},{"text":"9","slot":53,"line":4.06,"tone":"wednesday"},{"text":"0","slot":54,"line":4.06,"tone":"wednesday"},{"text":"1","slot":55,"line":4.06,"tone":"wednesday"},{"text":"2","slot":56,"line":4.06,"tone":"wednesday"},{"text":"3","slot":57,"line":4.06,"tone":"wednesday"},{"text":"4","slot":58,"line":4.06,"tone":"wednesday"},{"text":"5","slot":59,"line":4.06,"tone":"wednesday"},{"text":"6","slot":60,"line":4.06,"tone":"wednesday"},{"text":"7","slot":61,"line":4.06,"tone":"wednesday"},{"text":"8","slot":62,"line":4.06,"tone":"wednesday"},{"text":"9","slot":63,"line":4.06,"tone":"wednesday"},{"text":"0","slot":64,"line":4.06,"tone":"wednesday"},{"text":"1","slot":65,"line":4.06,"tone":"wednesday"},{"text":"2","slot":66,"line":4.06,"tone":"wednesday"},{"text":"3","slot":67,"line":4.06,"tone":"wednesday"},
{"text":"0","slot":68,"line":4.06,"tone":"thursday"},{"text":"1","slot":69,"line":4.06,"tone":"thursday"},{"text":"2","slot":70,"line":4.06,"tone":"thursday"},{"text":"3","slot":71,"line":4.06,"tone":"thursday"},{"text":"4","slot":72,"line":4.06,"tone":"thursday"},{"text":"5","slot":73,"line":4.06,"tone":"thursday"},{"text":"6","slot":74,"line":4.06,"tone":"thursday"},{"text":"7","slot":75,"line":4.06,"tone":"thursday"},{"text":"8","slot":76,"line":4.06,"tone":"thursday"},{"text":"9","slot":77,"line":4.06,"tone":"thursday"},{"text":"0","slot":78,"line":4.06,"tone":"thursday"},{"text":"1","slot":79,"line":4.06,"tone":"thursday"},{"text":"2","slot":80,"line":4.06,"tone":"thursday"},{"text":"3","slot":81,"line":4.06,"tone":"thursday"},
{"text":"1","slot":6,"line":3.125,"tone":"monday"},{"text":"1","slot":7,"line":3.125,"tone":"monday"},{"text":"1","slot":8,"line":3.125,"tone":"monday"},{"text":"1","slot":9,"line":3.125,"tone":"monday"},{"text":"1","slot":10,"line":3.125,"tone":"monday"},{"text":"1","slot":11,"line":3.125,"tone":"monday"},{"text":"1","slot":12,"line":3.125,"tone":"monday"},{"text":"1","slot":13,"line":3.125,"tone":"monday"},{"text":"1","slot":14,"line":3.125,"tone":"monday"},{"text":"1","slot":15,"line":3.125,"tone":"monday"},{"text":"2","slot":16,"line":3.125,"tone":"monday"},{"text":"2","slot":17,"line":3.125,"tone":"monday"},{"text":"2","slot":18,"line":3.125,"tone":"monday"},{"text":"2","slot":19,"line":3.125,"tone":"monday"},
{"text":"1","slot":30,"line":3.125,"tone":"yellow"},{"text":"1","slot":31,"line":3.125,"tone":"yellow"},{"text":"1","slot":32,"line":3.125,"tone":"yellow"},{"text":"1","slot":33,"line":3.125,"tone":"yellow"},{"text":"1","slot":34,"line":3.125,"tone":"yellow"},{"text":"1","slot":35,"line":3.125,"tone":"yellow"},{"text":"1","slot":36,"line":3.125,"tone":"yellow"},{"text":"1","slot":37,"line":3.125,"tone":"yellow"},{"text":"1","slot":38,"line":3.125,"tone":"yellow"},{"text":"1","slot":39,"line":3.125,"tone":"yellow"},{"text":"2","slot":40,"line":3.125,"tone":"yellow"},{"text":"2","slot":41,"line":3.125,"tone":"yellow"},{"text":"2","slot":42,"line":3.125,"tone":"yellow"},{"text":"2","slot":43,"line":3.125,"tone":"yellow"},
{"text":"1","slot":54,"line":3.125,"tone":"wednesday"},{"text":"1","slot":55,"line":3.125,"tone":"wednesday"},{"text":"1","slot":56,"line":3.125,"tone":"wednesday"},{"text":"1","slot":57,"line":3.125,"tone":"wednesday"},{"text":"1","slot":58,"line":3.125,"tone":"wednesday"},{"text":"1","slot":59,"line":3.125,"tone":"wednesday"},{"text":"1","slot":60,"line":3.125,"tone":"wednesday"},{"text":"1","slot":61,"line":3.125,"tone":"wednesday"},{"text":"1","slot":62,"line":3.125,"tone":"wednesday"},{"text":"1","slot":63,"line":3.125,"tone":"wednesday"},{"text":"2","slot":64,"line":3.125,"tone":"wednesday"},{"text":"2","slot":65,"line":3.125,"tone":"wednesday"},{"text":"2","slot":66,"line":3.125,"tone":"wednesday"},{"text":"2","slot":67,"line":3.125,"tone":"wednesday"},
{"text":"1","slot":78,"line":3.125,"tone":"thursday"},{"text":"1","slot":79,"line":3.125,"tone":"thursday"},{"text":"1","slot":80,"line":3.125,"tone":"thursday"},{"text":"1","slot":81,"line":3.125,"tone":"thursday"},
{"text":"1","slot":0,"line":19.375,"tone":"thursday"},{"text":"6","slot":0,"line":20.31,"tone":"thursday"}
],
"notes":[{"text":"(GMT -5+0)","slot":-9.786,"line":3.84,"tone":"yellow"},{"text":"(GMT -5+0)","slot":-9.786,"line":20.09,"tone":"yellow"}],
"sideTitles":[{"text":"--- Sky ---","slot":-9.571,"line":7.19,"tone":"yellow"},{"text":"- Ground -","slot":-9.571,"line":13.72,"tone":"white"},{"text":"Sky","slot":-9.571,"line":21.97,"tone":"yellow"}],
"logoText":[{"text":"Environment","slot":48.29,"line":24.79,"tone":"black"},{"text":"Canada","slot":48.29,"line":25.29,"tone":"black"},{"text":"Environnement","slot":52.93,"line":24.79,"tone":"black"},{"text":"Canada","slot":52.93,"line":25.29,"tone":"black"}]
},
"encoding":{"x":{"field":"slot","type":"quantitative","axis":null,"scale":{"domain":[-10,81.7142857],"range":[0,1284],"nice":false,"zero":false}}},
"resolve":{"scale":{"y":"independent","color":"independent"}},
"layer":[
{"encoding":{"y":{"field":"row","type":"nominal","axis":null,"scale":{"type":"band","domain":["Cloud Cover","ECMWF Cloud","Transparency","Seeing","Darkness","gap a","gap b","Smoke","Wind","Humidity","Temperature"],"range":[75,251],"paddingInner":0.25,"paddingOuter":0.125}}},
"resolve":{"scale":{"color":"independent"}},
"layer":[
{"data":{"name":"sky"},"mark":{"type":"rect","width":12},"encoding":{"color":{"field":"level","type":"ordinal","legend":null,"scale":{"domain":[0,10,20,30,40,50,60,70,80,90,100,105],"range":["#003f7f","#13508f","#2c6cab","#4a88cb","#5e9de3","#70b4f7","#99dcd8","#aef1f1","#c4c4c4","#d8d8d8","#f8f8f8","#ffffff"]}}}},
{"data":{"name":"joins"},"mark":{"type":"rect","height":6},"encoding":{"x2":{"field":"slotEnd"},"color":{"field":"level","type":"ordinal","legend":null,"scale":{"domain":[0,10,20,30,40,50,60,70,80,90,100,105],"range":["#003f7f","#13508f","#2c6cab","#4a88cb","#5e9de3","#70b4f7","#99dcd8","#aef1f1","#c4c4c4","#d8d8d8","#f8f8f8","#ffffff"]}}}},
{"data":{"name":"humidity"},"mark":{"type":"rect","width":12},"encoding":{"color":{"field":"level","type":"ordinal","legend":null,"scale":{"domain":[50,55,60,65,70,75,80,85,90,95],"range":["#88c0c0","#00ffee","#55ffaa","#99ff66","#eeff11","#ffcc00","#ff8800","#ff3300","#e60000","#b80000"]}}}},
{"data":{"name":"temperature"},"mark":{"type":"rect","width":12},"encoding":{"color":{"field":"level","type":"ordinal","legend":null,"scale":{"domain":[21,24,27],"range":["#e00000","#ff2200","#ff6600"]}}}},
{"data":{"name":"darkness"},"mark":{"type":"rect","width":12},"encoding":{"color":{"field":"mag","type":"quantitative","legend":null,"scale":{"domain":[-4,-3,-2,-1,0,1,1.6,2,3,4,5,6,7],"range":["#ffffff","#fff8f0","#fff0e0","#ffe8cc","#ffd8a0","#ffa030","#00a8f0","#00a0ff","#0088ee","#0066e0","#0044c8","#0010a0","#000080"]}}}},
{"data":{"name":"darknessFade"},"mark":{"type":"rect","width":3},"encoding":{"color":{"field":"mag","type":"quantitative","legend":null,"scale":{"domain":[-4,-3,-2,-1,0,1,1.6,2,3,4,5,6,7],"range":["#ffffff","#fff8f0","#fff0e0","#ffe8cc","#ffd8a0","#ffa030","#00a8f0","#00a0ff","#0088ee","#0066e0","#0044c8","#0010a0","#000080"]}}}}
]},
{"encoding":{"y":{"field":"line","type":"quantitative","axis":null,"scale":{"domain":[0,25.5],"range":[0,408],"nice":false,"zero":false}},"color":{"field":"tone","type":"nominal","legend":null,"scale":{"domain":["yellow","cyan","monday","wednesday","thursday","olive","dark","white","flag","sky","ground","black"],"range":["#ffff00","#00c8c8","#80ff80","#ff8080","#ff00ff","#c8c800","#c8c840","#ffffff","#ff0000","#0060e8","#556b00","#000000"]}}},
"layer":[
{"data":{"name":"panels"},"mark":{"type":"rect"},"encoding":{"x2":{"field":"slotEnd"},"y2":{"field":"lineEnd"}}},
{"data":{"name":"dayLines"},"mark":{"type":"rule","strokeWidth":2},"encoding":{"y2":{"field":"lineEnd"},"color":{"value":"#ff0000"}}},
{"data":{"name":"leaf"},"mark":{"type":"point","filled":true,"opacity":1,"size":110,"shape":"M0,-1L.2,-.6L.4,-.7L.3,-.2L.7,-.3L.6,0L.9,.2L.5,.5L.1,.45V1H-.1V.45L-.5,.5L-.9,.2L-.6,0L-.7,-.3L-.3,-.2L-.4,-.7L-.2,-.6Z"}},
{"data":{"name":"heading"},"mark":{"type":"text","align":"left","baseline":"middle","font":"Liberation Mono","fontWeight":"bold","fontSize":20},"encoding":{"text":{"field":"text"}}},
{"data":{"name":"labels"},"mark":{"type":"text","align":"left","baseline":"middle","font":"Liberation Mono","fontSize":15},"encoding":{"text":{"field":"text"}}},
{"data":{"name":"hours"},"mark":{"type":"text","align":"center","baseline":"middle","font":"Liberation Mono","fontSize":15},"encoding":{"text":{"field":"text"}}},
{"data":{"name":"notes"},"mark":{"type":"text","align":"left","baseline":"middle","font":"Liberation Mono","fontSize":8},"encoding":{"text":{"field":"text"}}},
{"data":{"name":"sideTitles"},"mark":{"type":"text","align":"center","baseline":"middle","angle":270,"font":"Liberation Mono","fontSize":10},"encoding":{"text":{"field":"text"}}},
{"data":{"name":"logoText"},"mark":{"type":"text","align":"left","baseline":"middle","font":"Liberation Sans","fontSize":8.5},"encoding":{"text":{"field":"text"}}}
]},
{"data":{"name":"extendedDarkness"},"encoding":{"y":{"field":"line","type":"quantitative","axis":null,"scale":{"domain":[0,25.5],"range":[0,408],"nice":false,"zero":false}},"color":{"field":"mag","type":"quantitative","legend":null,"scale":{"domain":[-4,-3,-2,-1,0],"range":["#ffffff","#fff8f0","#fff0e0","#ffe8cc","#ffd8a0"]}}},
"mark":{"type":"rect","width":3,"height":12}}
]}
